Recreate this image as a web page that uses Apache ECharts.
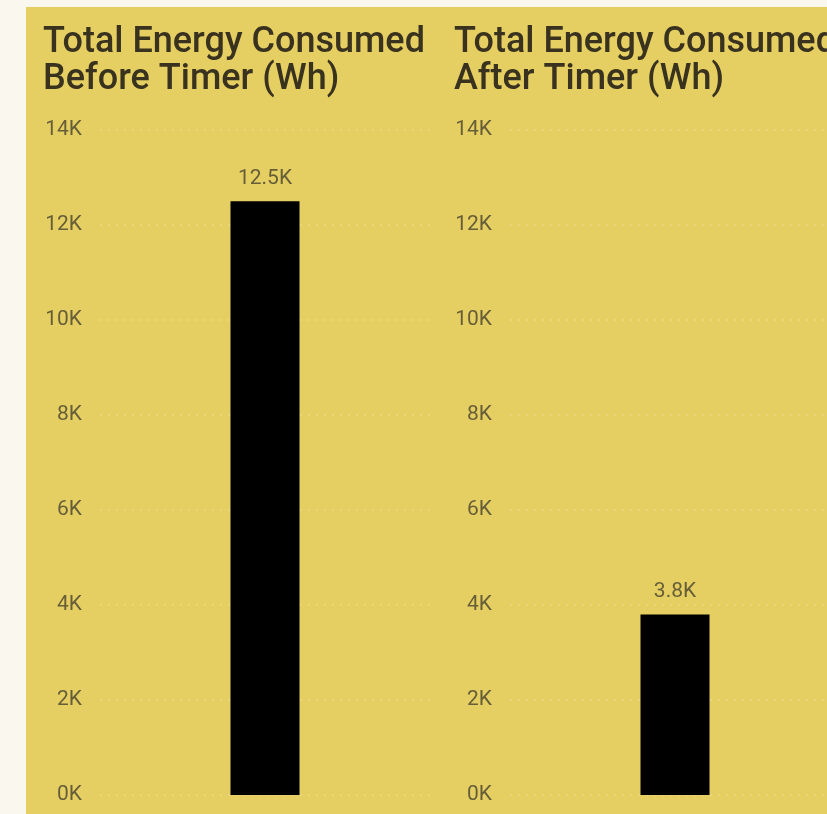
<!DOCTYPE html>
<html>
<head>
<meta charset="utf-8">
<style>
html,body{margin:0;padding:0;background:#faf7ef;overflow:hidden;width:827px;height:814px;}
#main{width:860px;height:814px;}
</style>
<script src="https://cdn.jsdelivr.net/npm/echarts@6/dist/echarts.min.js"></script>
</head>
<body>
<div id="main"></div>
<script>
const titles = ['Total Energy Consumed\nBefore Timer (Wh)', 'Total Energy Consumed\nAfter Timer (Wh)'];
const categories = [''];
const beforeValues = [12500];
const afterValues = [3800];
const yTicks = [0, 2000, 4000, 6000, 8000, 10000, 12000, 14000];

const chart = echarts.init(document.getElementById('main'), null, {renderer: 'canvas'});
const fontFam = 'Roboto, "DejaVu Sans", sans-serif';
const fmtK = v => (v / 1000) + 'K';
const labelColor = '#665e38';

function yAxis(gi) {
  return {
    type: 'value', gridIndex: gi, min: yTicks[0], max: yTicks[yTicks.length - 1], interval: 2000,
    axisLine: {show: false}, axisTick: {show: false},
    axisLabel: {formatter: fmtK, color: labelColor, fontSize: 21, fontFamily: fontFam, margin: 18},
    splitLine: {show: true, lineStyle: {color: 'rgba(255,255,255,0.16)', type: [2, 6], width: 2}}
  };
}
function xAxis(gi) {
  return {type: 'category', gridIndex: gi, data: categories, axisLine: {show: false}, axisTick: {show: false}, axisLabel: {show: false}};
}
function series(gi, data) {
  return {
    type: 'bar', xAxisIndex: gi, yAxisIndex: gi, data: data, barWidth: 69,
    itemStyle: {color: '#000000'},
    label: {show: true, position: 'top', distance: 12, color: labelColor, fontSize: 21, fontFamily: fontFam,
      formatter: p => (p.value / 1000).toFixed(1) + 'K'}
  };
}
const titleStyle = {fontFamily: fontFam, fontSize: 36, fontWeight: 500, color: '#38321e', lineHeight: 37};

chart.setOption({
  backgroundColor: '#faf7ef',
  animation: false,
  graphic: [{type: 'rect', shape: {x: 26, y: 7, width: 840, height: 820}, style: {fill: '#e6cf62'}, z: -10, silent: true}],
  title: [
    {text: titles[0], left: 38, top: 19, textStyle: titleStyle},
    {text: titles[1], left: 449, top: 19, textStyle: titleStyle}
  ],
  grid: [
    {left: 100, width: 330, top: 130, bottom: 19, containLabel: false},
    {left: 510, width: 330, top: 130, bottom: 19, containLabel: false}
  ],
  xAxis: [xAxis(0), xAxis(1)],
  yAxis: [yAxis(0), yAxis(1)],
  series: [series(0, beforeValues), series(1, afterValues)]
});
</script>
</body>
</html>
